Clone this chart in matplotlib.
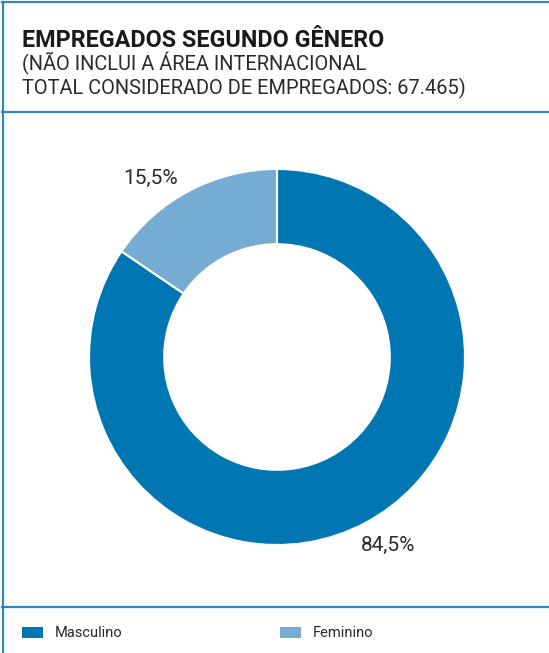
import matplotlib.pyplot as plt
from matplotlib.patches import Rectangle
from matplotlib.lines import Line2D

plt.rcParams['font.family'] = ['Roboto', 'DejaVu Sans']

categories = ['Masculino', 'Feminino']
values = [84.5, 15.5]
value_labels = ['84,5%', '15,5%']
colors = ['#0077b3', '#76acd2']
line_color = '#2f87c2'

W, H = 549, 653
fig = plt.figure(figsize=(W / 100, H / 100), dpi=100)

def fx(px):
    return px / W

def fy(py):
    return 1 - py / H

# frame lines
for y in (2, 112, 607):
    fig.add_artist(Line2D([fx(2), 1], [fy(y), fy(y)], color=line_color, lw=1.6))
fig.add_artist(Line2D([fx(2.5), fx(2.5)], [0, fy(2)], color=line_color, lw=1.6))

# header
fig.text(fx(22), fy(47), 'EMPREGADOS SEGUNDO GÊNERO', fontsize=16.8,
         fontweight='bold', color='#1a1a1a', va='baseline')
fig.text(fx(22), fy(70), '(NÃO INCLUI A ÁREA INTERNACIONAL', fontsize=14.4,
         color='#2a2a2a', va='baseline')
fig.text(fx(22), fy(94), 'TOTAL CONSIDERADO DE EMPREGADOS: 67.465)', fontsize=14.4,
         color='#2a2a2a', va='baseline')

# donut
cx, cy, r = 277, 357, 188
ax = fig.add_axes([fx(cx - r), fy(cy + r), 2 * r / W, 2 * r / H])
ax.pie(values, colors=colors, startangle=90, counterclock=False, radius=1,
       wedgeprops=dict(width=0.4, edgecolor='white', linewidth=1.5))
ax.set_xlim(-1, 1)
ax.set_ylim(-1, 1)
ax.set_aspect('equal')
ax.axis('off')

# value labels
fig.text(fx(388), fy(545), value_labels[0], fontsize=15, color='#2a2a2a',
         ha='center', va='center')
fig.text(fx(151), fy(178), value_labels[1], fontsize=15, color='#2a2a2a',
         ha='center', va='center')

# legend
leg_x = [22, 280]
for i, (cat, col) in enumerate(zip(categories, colors)):
    fig.add_artist(Rectangle((fx(leg_x[i]), fy(638)), fx(21), 11 / H,
                             facecolor=col, edgecolor='none'))
    fig.text(fx(leg_x[i] + 33), fy(633), cat, fontsize=10.5, color='#2a2a2a',
             va='center')

fig.savefig('out.png', dpi=100)
